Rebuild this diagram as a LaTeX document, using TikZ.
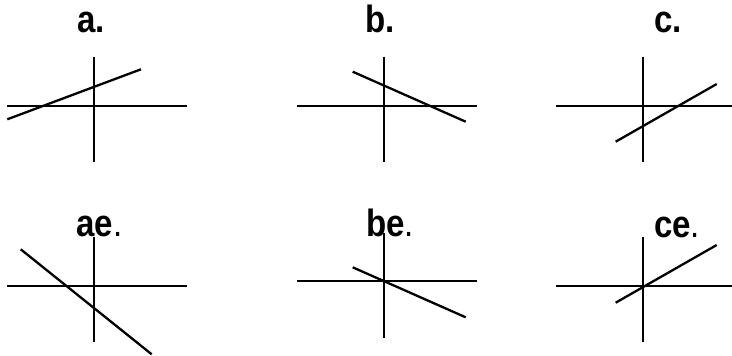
\documentclass[tikz,border=0pt]{standalone}
\usepackage{fontspec}
\setmainfont{Liberation Sans}
\newfontfamily\narrowfont[FakeStretch=0.87]{Liberation Sans}
\usetikzlibrary{positioning}
\tikzset{
    axisline/.style={line width=2.3pt, black},
    slantline/.style={line width=2.3pt, black},
    caption/.style={anchor=base west, inner sep=0pt, outer sep=0pt, font=\narrowfont\fontsize{38}{40}\selectfont}
}

\begin{document}
\begin{tikzpicture}[x=1pt, y=-1pt]
    \useasboundingbox (0,0) rectangle (732,356);

    % top row
    \node (la) [caption] at (77.5,32.3) {\textbf{a.}};
    \node (lb) [caption] at (365.5,32.3) {\textbf{b.}};
    \node (lc) [caption] at (654,32.3) {\textbf{c.}};

    \begin{scope}[shift={(94.3,106)}]
        \draw [axisline] (-87,0) -- (93,0);
        \draw [axisline] (0,-49.3) -- (0,56);
        \draw [slantline] (-87,13.3) -- (46.7,-36.7);
    \end{scope}
    \begin{scope}[shift={(384.3,106)}]
        \draw [axisline] (-87,0) -- (93,0);
        \draw [axisline] (0,-49.3) -- (0,56);
        \draw [slantline] (-31.6,-34.3) -- (81.4,15.7);
    \end{scope}
    \begin{scope}[shift={(643.3,106)}]
        \draw [axisline] (-87.3,0) -- (89,0);
        \draw [axisline] (0,-49.3) -- (0,56);
        \draw [slantline] (-27.6,35.7) -- (73.4,-22);
    \end{scope}

    % bottom row
    \node (lae) [caption] at (76.5,236.7) {\textbf{ae}.};
    \node (lbe) [caption] at (366,236.7) {\textbf{be}.};
    \node (lce) [caption] at (654,237.5) {\textbf{ce}.};

    \begin{scope}[shift={(94.3,285.7)}]
        \draw [axisline] (-87,0) -- (93,0);
        \draw [axisline] (0,-49) -- (0,56);
        \draw [slantline] (-73.6,-36.4) -- (57.4,68.6);
    \end{scope}
    \begin{scope}[shift={(384.3,281)}]
        \draw [axisline] (-87,0) -- (93,0);
        \draw [axisline] (0,-47.7) -- (0,56.7);
        \draw [slantline] (-31.6,-13.7) -- (81.4,36.3);
    \end{scope}
    \begin{scope}[shift={(643.3,285.7)}]
        \draw [axisline] (-87.3,0) -- (89,0);
        \draw [axisline] (0,-49) -- (0,56);
        \draw [slantline] (-27.6,17) -- (73.4,-40.7);
    \end{scope}
\end{tikzpicture}
\end{document}
